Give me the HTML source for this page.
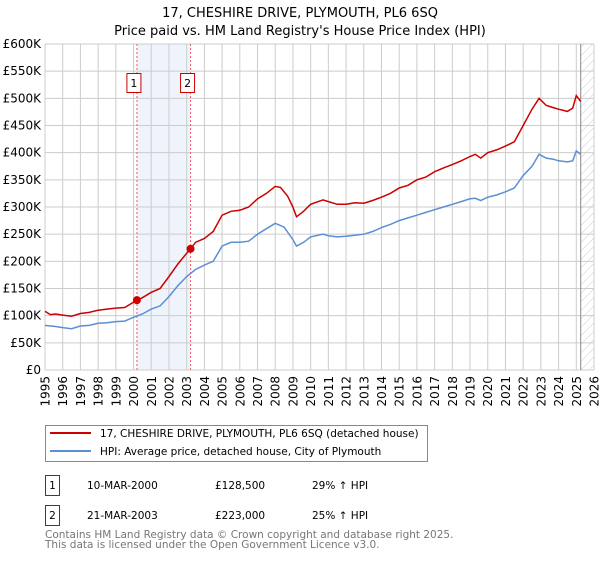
<!DOCTYPE html>
<html><head><meta charset="utf-8"><style>
body{margin:0;background:#fff;font-family:"Liberation Sans","DejaVu Sans",sans-serif}
svg text{font-family:"DejaVu Sans","Liberation Sans",sans-serif}
</style></head><body>
<svg id="c" width="600" height="560" viewBox="0 0 600 560" xmlns="http://www.w3.org/2000/svg">
<defs><pattern id="hatch" width="6" height="6" patternUnits="userSpaceOnUse" patternTransform="rotate(45)"><line x1="0" y1="0" x2="0" y2="6" stroke="#ccc" stroke-width="1"/></pattern></defs>
<text x="300" y="17" text-anchor="middle" font-size="13">17, CHESHIRE DRIVE, PLYMOUTH, PL6 6SQ</text>
<text x="300" y="35" text-anchor="middle" font-size="13">Price paid vs. HM Land Registry's House Price Index (HPI)</text>
<g id="plot"></g>
<g>
<rect x="45.5" y="425.5" width="382" height="36" fill="#fff" stroke="#888"/>
<line x1="50" y1="433" x2="91" y2="433" stroke="#cc0000" stroke-width="2"/>
<text x="100" y="437" font-size="10.5">17, CHESHIRE DRIVE, PLYMOUTH, PL6 6SQ (detached house)</text>
<line x1="50" y1="451" x2="91" y2="451" stroke="#5b8fd4" stroke-width="2"/>
<text x="100" y="455" font-size="10.5">HPI: Average price, detached house, City of Plymouth</text>
</g>
<g font-size="10.5">
<rect x="45.5" y="475.5" width="14" height="20" fill="#fff" stroke="#cc0000"/>
<text x="52.5" y="489" text-anchor="middle">1</text>
<text x="87" y="489">10-MAR-2000</text><text x="215" y="489">£128,500</text><text x="312" y="489">29% ↑ HPI</text>
<rect x="45.5" y="505.5" width="14" height="20" fill="#fff" stroke="#cc0000"/>
<text x="52.5" y="519" text-anchor="middle">2</text>
<text x="87" y="519">21-MAR-2003</text><text x="215" y="519">£223,000</text><text x="312" y="519">25% ↑ HPI</text>
</g>
<text x="45" y="538" font-size="10.5" fill="#777">Contains HM Land Registry data © Crown copyright and database right 2025.</text>
<text x="45" y="548" font-size="10.5" fill="#777">This data is licensed under the Open Government Licence v3.0.</text>
</svg>
<script>
const yTicks=[0,50,100,150,200,250,300,350,400,450,500,550,600];
const yLabels=["£0","£50K","£100K","£150K","£200K","£250K","£300K","£350K","£400K","£450K","£500K","£550K","£600K"];
const years=[1995,1996,1997,1998,1999,2000,2001,2002,2003,2004,2005,2006,2007,2008,2009,2010,2011,2012,2013,2014,2015,2016,2017,2018,2019,2020,2021,2022,2023,2024,2025,2026];
const propT=[1995,1995.3,1995.6,1996,1996.5,1997,1997.5,1998,1998.5,1999,1999.5,2000.19,2000.5,2001,2001.5,2002,2002.5,2003,2003.22,2003.5,2004,2004.5,2005,2005.5,2006,2006.5,2007,2007.5,2008,2008.3,2008.7,2009,2009.2,2009.6,2010,2010.7,2011,2011.5,2012,2012.5,2013,2013.5,2014,2014.5,2015,2015.5,2016,2016.5,2017,2017.5,2018,2018.5,2019,2019.3,2019.6,2020,2020.5,2021,2021.5,2022,2022.5,2022.9,2023.3,2023.7,2024,2024.5,2024.8,2025.0,2025.25];
const propV=[108,102,103,101,99,104,106,110,112,114,115,128.5,133,143,150,172,195,215,223,235,242,255,285,292,294,300,315,325,338,336,320,300,282,292,305,313,310,305,305,308,307,312,318,325,335,340,350,355,365,372,378,385,393,397,390,400,405,412,420,450,480,500,487,483,480,476,482,505,494];
const hpiT=[1995,1995.6,1996,1996.5,1997,1997.5,1998,1998.5,1999,1999.5,2000,2000.5,2001,2001.5,2002,2002.5,2003,2003.5,2004,2004.5,2005,2005.5,2006,2006.5,2007,2007.5,2008,2008.5,2009,2009.2,2009.6,2010,2010.7,2011,2011.5,2012,2012.5,2013,2013.5,2014,2014.5,2015,2015.5,2016,2016.5,2017,2017.5,2018,2018.5,2019,2019.3,2019.6,2020,2020.5,2021,2021.5,2022,2022.5,2022.9,2023.3,2023.7,2024,2024.5,2024.8,2025.0,2025.25];
const hpiV=[82,80,78,76,81,82,86,87,89,90,97,103,112,118,135,155,172,185,193,200,228,235,235,237,250,260,270,263,240,228,235,245,250,247,245,246,248,250,255,262,268,275,280,285,290,295,300,305,310,315,316,312,318,322,328,335,358,375,397,390,388,385,383,385,403,397];
const sales=[[2000.19,128.5,"1"],[2003.22,223,"2"]];
const x0=45,x1=594,y0=370,y1=44;
const X=t=>x0+(t-1995)/(2026-1995)*(x1-x0);
const Y=v=>y0-v/600*(y0-y1);
const NS="http://www.w3.org/2000/svg";
const g=document.getElementById('plot');
function mk(tag,at,parent){const e=document.createElementNS(NS,tag);for(const k in at)e.setAttribute(k,at[k]);(parent||g).appendChild(e);return e;}
let e=mk('rect',{x:X(sales[0][0]),y:y1,width:X(sales[1][0])-X(sales[0][0]),height:y0-y1,fill:'#eef3fc'});


e=mk('rect',{x:X(2025.25),y:y1,width:x1-X(2025.25),height:y0-y1,fill:'url(#hatch)'});


yTicks.forEach((v,i)=>{
 let l=mk('line',{x1:x0,x2:x1,y1:Y(v),y2:Y(v),stroke:'#ccc','stroke-width':1});
 
 
 let t=mk('text',{x:x0-4,y:Y(v)+4,'text-anchor':'end','font-size':12});
 t.textContent=yLabels[i];
 
 
});
years.forEach(yr=>{
 let l=mk('line',{x1:X(yr),x2:X(yr),y1:y1,y2:y0,stroke:'#ccc','stroke-width':1});
 
 
 let t=mk('text',{x:0,y:0,'text-anchor':'end','font-size':12,transform:`translate(${X(yr)+4.5},376) rotate(-90)`});
 t.textContent=yr;
 
 
});
e=mk('line',{x1:X(2025.25),x2:X(2025.25),y1:y1,y2:y0,stroke:'#888','stroke-width':1});


sales.forEach(s=>{
 let l=mk('line',{x1:X(s[0]),x2:X(s[0]),y1:y1,y2:y0,stroke:'#f06060','stroke-width':1,'stroke-dasharray':'2,2'});
 
 
 let r=mk('rect',{x:X(s[0])-10,y:73.5,width:14,height:19,fill:'#fff',stroke:'#cc0000'});
 
 
 let t=mk('text',{x:X(s[0])-3,y:87,'text-anchor':'middle','font-size':11});
 t.textContent=s[2];
 
 
});
function path(T,V){return T.map((t,i)=>(i?'L':'M')+X(t).toFixed(1)+','+Y(V[i]).toFixed(1)).join('');}
e=mk('path',{d:path(hpiT,hpiV),fill:'none',stroke:'#5b8fd4','stroke-width':1.5});


e=mk('path',{d:path(propT,propV),fill:'none',stroke:'#cc0000','stroke-width':1.5});


sales.forEach(s=>{
 let c=mk('circle',{cx:X(s[0]),cy:Y(s[1]),r:4,fill:'#cc0000'});
 
 
});
</script>
</body></html>
